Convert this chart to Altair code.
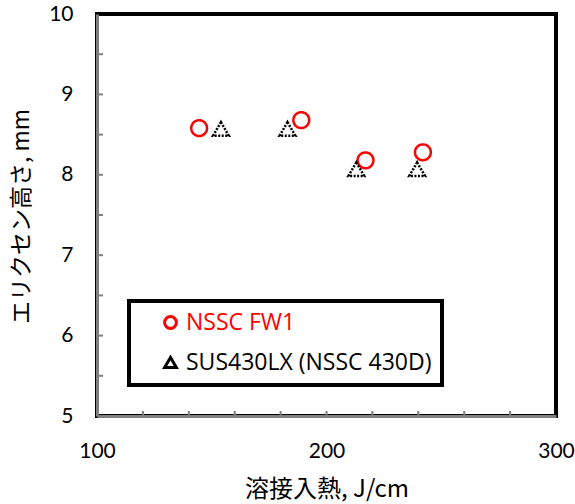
import altair as alt
import pandas as pd

# Erichsen height vs. welding heat input for two grades
series_names = ["NSSC FW1", "SUS430LX (NSSC 430D)"]
fw1_heat = [144.5, 189.0, 217.0, 242.0]
fw1_height = [8.58, 8.68, 8.18, 8.28]
lx_heat = [154.0, 183.0, 213.0, 239.5]
lx_height = [8.57, 8.57, 8.07, 8.07]

x_minor = [120, 140, 160, 180, 200, 220, 240, 260, 280]
y_minor = [5.5, 6.0, 6.5, 7.0, 7.5, 8.0, 8.5, 9.0, 9.5]

W, H = 459, 402
FONT = "Lato"
LEGEND_FONT = "Open Sans"
CJK = "Noto Sans CJK JP"

df = pd.DataFrame({
    "heat": fw1_heat + lx_heat,
    "height": fw1_height + lx_height,
    "series": [series_names[0]] * len(fw1_heat) + [series_names[1]] * len(lx_heat),
})

x_scale = alt.Scale(domain=[100, 300], nice=False, zero=False)
y_scale = alt.Scale(domain=[5, 10], nice=False, zero=False)

x_axis = alt.Axis(
    title="溶接入熱, J/cm", titleFont=CJK, titleFontSize=24, titleFontWeight="normal",
    titleColor="black", titleX=W / 2, titleY=73, titleBaseline="middle",
    values=[100, 200, 300], format="d", labelFlush=False,
    labelFont=FONT, labelFontSize=21, labelColor="black",
    labelPadding=24, ticks=False, grid=False, domainColor="#808080", domainWidth=3,
)
y_axis = alt.Axis(
    title="エリクセン高さ, mm", titleFont=CJK, titleFontSize=23, titleFontWeight="normal",
    titleColor="black", titleX=-76, titleY=H / 2 + 1, titleBaseline="middle", titleAngle=-90,
    values=[5, 6, 7, 8, 9, 10], format="d", labelFlush=False,
    labelFont=FONT, labelFontSize=21, labelColor="black",
    labelPadding=24, ticks=False, grid=False, domainColor="#808080", domainWidth=3,
)

# boxed legend inside the plot; trailing spaces widen the frame on the right
legend = alt.Legend(
    title=None, orient="none", legendX=32, legendY=287,
    strokeColor="black", fillColor="white",
    padding=10, symbolOffset=20, rowPadding=16,
    labelFont=LEGEND_FONT, labelFontSize=23, labelOffset=4,
    labelExpr="datum.label + '    '",
    labelColor={"expr": "datum.label == 'NSSC FW1' ? '#ff0000' : '#000000'"},
    symbolSize=140, symbolStrokeWidth=3, symbolDash=[],
    labelLimit=500,
)

is_fw1 = "datum.series == 'NSSC FW1'"

points = alt.Chart(df).mark_point(filled=False, strokeWidth=2.5, opacity=1).encode(
    x=alt.X("heat:Q", scale=x_scale, axis=x_axis),
    y=alt.Y("height:Q", scale=y_scale, axis=y_axis),
    shape=alt.Shape("series:N", scale=alt.Scale(domain=series_names, range=["circle", "triangle-up"]),
                    legend=legend),
    color=alt.Color("series:N", scale=alt.Scale(domain=series_names, range=["#ff0000", "#000000"]),
                    legend=legend),
    size=alt.value(250),
    strokeDash=alt.condition(is_fw1, alt.value([1, 0]), alt.value([2, 1.5])),
)

xticks = alt.Chart(pd.DataFrame({"v": x_minor})).mark_rule(color="#808080", strokeWidth=2).encode(
    x=alt.X("v:Q", scale=x_scale), y=alt.value(H), y2=alt.value(H - 5)
)
yticks = alt.Chart(pd.DataFrame({"v": y_minor})).mark_rule(color="#808080", strokeWidth=2).encode(
    y=alt.Y("v:Q", scale=y_scale), x=alt.value(0), x2=alt.value(6)
)

chart = alt.layer(xticks, yticks, points).properties(
    width=W, height=H,
    autosize=alt.AutoSizeParams(type="none"),
    padding={"left": 97, "top": 14, "right": 19, "bottom": 88},
    background="white",
).configure_view(stroke="black", strokeWidth=4).configure_legend(strokeWidth=4)

chart.save("out.html", embed_options={"renderer": "svg", "actions": False})
